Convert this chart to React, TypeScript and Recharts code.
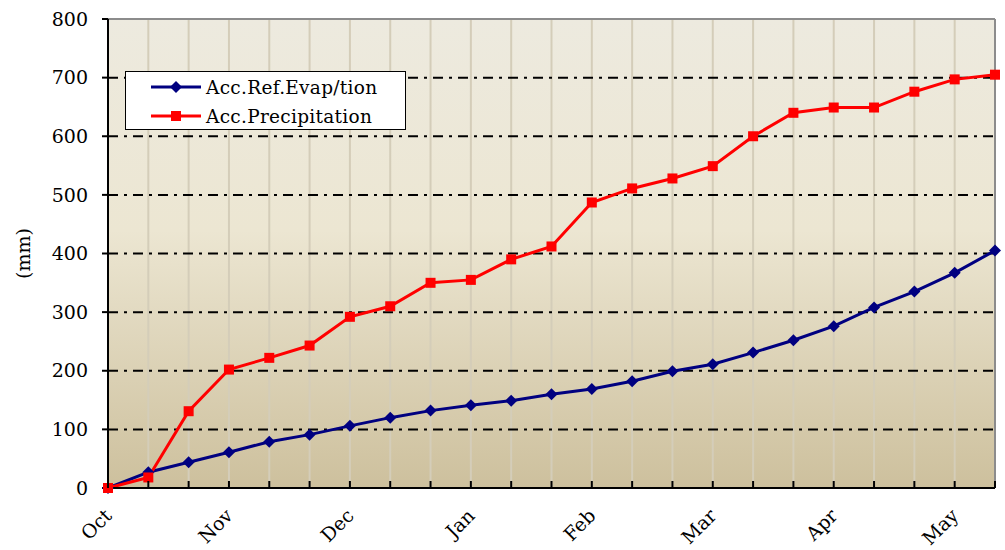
import React from 'react';
import {
  LineChart,
  Line,
  XAxis,
  YAxis,
  CartesianGrid,
  Legend,
  ReferenceLine,
} from 'recharts';

// one label every third point (start of each month)
const tickLabels = [
  'Oct', '', '', 'Nov', '', '', 'Dec', '', '', 'Jan', '', '', 'Feb', '', '',
  'Mar', '', '', 'Apr', '', '', 'May', '',
];

const evapValues = [
  0, 27, 44, 61, 79, 91, 106, 120, 132, 141, 149, 160, 169, 182, 199, 211,
  231, 252, 276, 308, 335, 367, 405,
];

const precipValues = [
  0, 18, 131, 202, 222, 243, 292, 310, 350, 355, 390, 412, 487, 511, 528, 549,
  600, 640, 649, 649, 676, 697, 705,
];

const yTicks = [0, 100, 200, 300, 400, 500, 600, 700, 800];
const gridValues = [100, 200, 300, 400, 500, 600, 700];

const data = tickLabels.map((_, i) => ({
  idx: i,
  evap: evapValues[i],
  precip: precipValues[i],
}));

const FONT = '"DejaVu Serif", serif';

const XTick = ({ x, y, payload }: any) => {
  const label = tickLabels[payload.value];
  return (
    <g>
      <line x1={x} x2={x} y1={y} y2={y - 7} stroke="#000" strokeWidth={2} />
      {label && (
        <text
          transform={`translate(${x + 5},${y + 29}) rotate(-45)`}
          textAnchor="end"
          fontFamily={FONT}
          fontSize={19}
          fill="#000"
        >
          {label}
        </text>
      )}
    </g>
  );
};

const Diamond = ({ cx, cy, stroke, size = 6 }: any) => {
  if (cx == null || cy == null) return null;
  return (
    <path
      d={`M${cx},${cy - size} L${cx + size},${cy} L${cx},${cy + size} L${cx - size},${cy} Z`}
      fill={stroke}
    />
  );
};

const Square = ({ cx, cy, stroke, size = 5 }: any) => {
  if (cx == null || cy == null) return null;
  return <rect x={cx - size} y={cy - size} width={size * 2} height={size * 2} fill={stroke} />;
};

const LegendBox = () => {
  const rows = [
    { name: 'Acc.Ref.Evap/tion', color: '#000080', shape: 'd' },
    { name: 'Acc.Precipitation', color: '#ff0000', shape: 's' },
  ];
  return (
    <div
      style={{
        width: 279,
        height: 57,
        background: '#fff',
        border: '1px solid #000',
        fontFamily: FONT,
        fontSize: 18.5,
        letterSpacing: 0.3,
        color: '#000',
      }}
    >
      {rows.map((r, i) => (
        <div
          key={r.name}
          style={{
            position: 'absolute',
            left: 26,
            top: 5 + i * 29,
            height: 22,
            display: 'flex',
            alignItems: 'center',
            whiteSpace: 'nowrap',
          }}
        >
          <svg width={50} height={14} style={{ marginRight: 5 }}>
            <line x1={0} x2={50} y1={7} y2={7} stroke={r.color} strokeWidth={3} />
            {r.shape === 'd' ? (
              <Diamond cx={25} cy={7} stroke={r.color} />
            ) : (
              <Square cx={25} cy={7} stroke={r.color} />
            )}
          </svg>
          <span>{r.name}</span>
        </div>
      ))}
    </div>
  );
};

export default function App() {
  return (
    <div style={{ position: 'absolute', left: 0, top: 0, width: 1005, height: 550, background: '#fff' }}>
      <LineChart
        width={1005}
        height={550}
        data={data}
        margin={{ top: 19, right: 10, left: 0, bottom: 0 }}
      >
        <defs>
          <linearGradient id="bgGrad" x1="0" y1="0" x2="0" y2="1">
            <stop offset="0%" stopColor="#EDEADF" />
            <stop offset="45%" stopColor="#ECE6D2" />
            <stop offset="100%" stopColor="#CDC09D" />
          </linearGradient>
        </defs>
        <CartesianGrid horizontal={false} stroke="#D4CDB9" strokeWidth={2} fill="url(#bgGrad)" />
        <CartesianGrid
          vertical={false}
          horizontalValues={gridValues}
          stroke="#000"
          strokeWidth={2}
          strokeDasharray="10 6 3 6"
        />
        <ReferenceLine y={800} stroke="#8c8c8c" strokeWidth={2} />
        <ReferenceLine x={22} stroke="#8c8c8c" strokeWidth={2} />
        <XAxis
          dataKey="idx"
          type="number"
          domain={[0, 22]}
          ticks={data.map((d) => d.idx)}
          interval={0}
          height={62}
          tickLine={false}
          tickSize={0}
          tickMargin={0}
          tick={<XTick />}
          axisLine={{ stroke: '#000', strokeWidth: 2 }}
        />
        <YAxis
          domain={[0, 800]}
          ticks={yTicks}
          width={108}
          tickSize={6}
          tickMargin={14}
          tickLine={{ stroke: '#000', strokeWidth: 2 }}
          axisLine={{ stroke: '#000', strokeWidth: 2 }}
          tick={{ fontFamily: FONT, fontSize: 19, fill: '#000' }}
          label={{
            value: '(mm)',
            angle: -90,
            position: 'insideLeft',
            offset: 23,
            style: { fontFamily: FONT, fontSize: 19, fill: '#000', textAnchor: 'middle' },
          }}
        />
        <Legend
          layout="vertical"
          align="center"
          verticalAlign="middle"
          content={<LegendBox />}
          wrapperStyle={{ left: 125, top: 71, width: 281, height: 59 }}
        />
        <Line
          type="linear"
          dataKey="evap"
          name="Acc.Ref.Evap/tion"
          stroke="#000080"
          strokeWidth={3}
          dot={(p: any) => <Diamond key={`e${p.index}`} {...p} stroke="#000080" />}
          isAnimationActive={false}
        />
        <Line
          type="linear"
          dataKey="precip"
          name="Acc.Precipitation"
          stroke="#ff0000"
          strokeWidth={3}
          dot={(p: any) => <Square key={`p${p.index}`} {...p} stroke="#ff0000" />}
          isAnimationActive={false}
        />
      </LineChart>
    </div>
  );
}
